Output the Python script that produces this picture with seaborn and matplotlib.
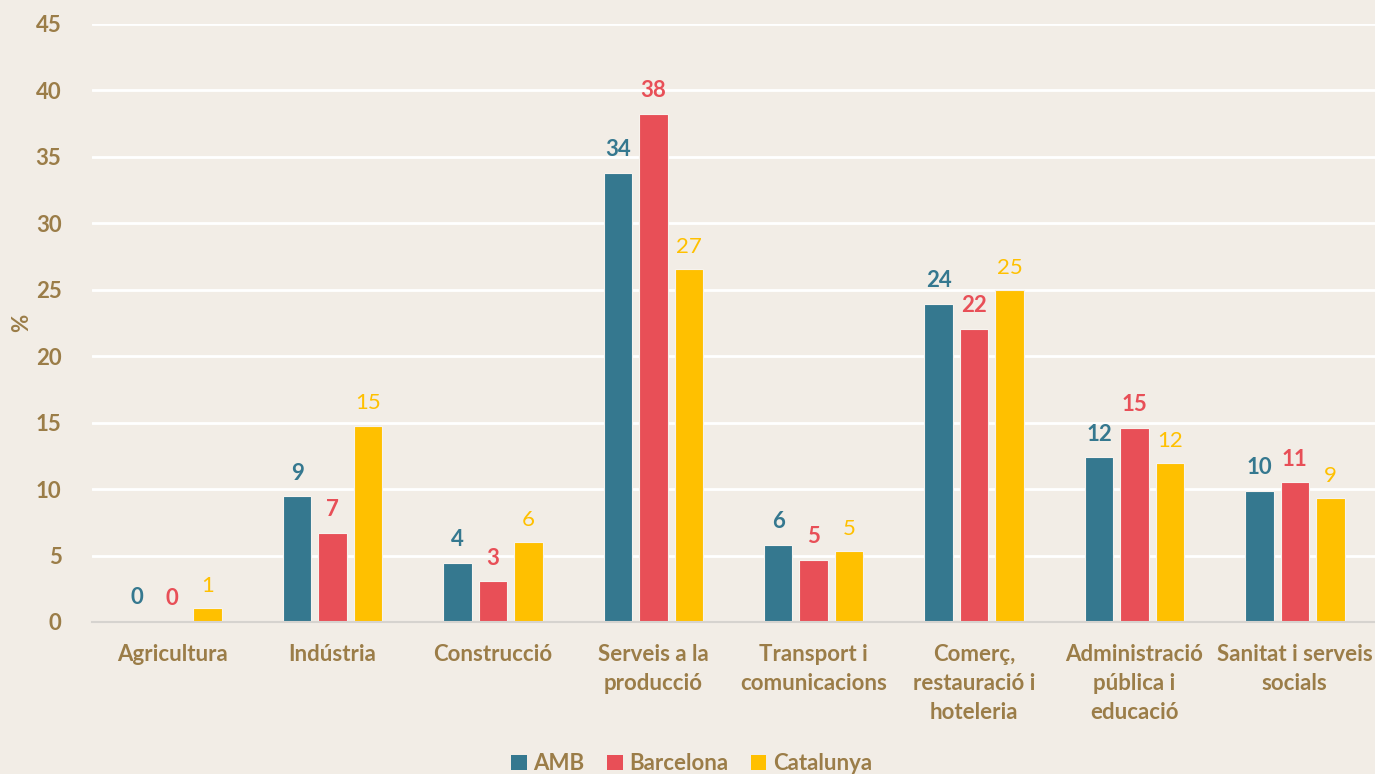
import matplotlib
matplotlib.use("Agg")
import matplotlib.pyplot as plt
import seaborn as sns
import pandas as pd
from matplotlib.patches import Patch

categories = ["Agricultura", "Indústria", "Construcció", "Serveis a la\nproducció",
              "Transport i\ncomunicacions", "Comerç,\nrestauració i\nhoteleria",
              "Administració\npública i\neducació", "Sanitat i serveis\nsocials"]
series = ["AMB", "Barcelona", "Catalunya"]
amb = [0.1, 9.48, 4.44, 33.8, 5.8, 23.95, 12.4, 9.86]
barcelona = [0.05, 6.7, 3.08, 38.25, 4.67, 22.05, 14.6, 10.52]
catalunya = [1.05, 14.75, 6.02, 26.55, 5.34, 24.98, 11.96, 9.33]
yticks = [0, 5, 10, 15, 20, 25, 30, 35, 40, 45]

colors = ["#35788f", "#e84f57", "#ffc000"]
txt = "#9b7d48"
bg = "#f2ede6"
fs = 16

rows = []
for s, vals in zip(series, [amb, barcelona, catalunya]):
    for c, v in zip(categories, vals):
        rows.append({"cat": c, "serie": s, "val": v})
df = pd.DataFrame(rows)

sns.set_theme(style="white")
plt.rcParams["font.family"] = ["Lato", "DejaVu Sans"]

fig = plt.figure(figsize=(13.75, 7.74), dpi=100, facecolor=bg)
ax = fig.add_axes([92/1375, 1-622/774, 1-92/1375, (622-24)/774])
ax.set_facecolor(bg)

sns.barplot(data=df, x="cat", y="val", hue="serie", palette=colors, width=0.664,
            gap=0.2, ax=ax, legend=False, edgecolor="#f7f3ee", linewidth=0.8,
            order=categories, hue_order=series, saturation=1)

ax.set_ylim(0, 45)
ax.set_xlim(-0.5, len(categories) - 0.5)
ax.set_yticks(yticks)
ax.yaxis.grid(True, color="white", linewidth=2)
ax.set_axisbelow(True)
for sp in ["top", "right", "left"]:
    ax.spines[sp].set_visible(False)
ax.spines["bottom"].set_color("#d6d3cf")
ax.spines["bottom"].set_linewidth(1.5)
ax.tick_params(axis="both", length=0, colors=txt, labelsize=fs)
ax.tick_params(axis="x", pad=16)
ax.tick_params(axis="y", pad=22)
for lab in ax.get_xticklabels() + ax.get_yticklabels():
    lab.set_fontweight("bold")
    lab.set_color(txt)
for lab in ax.get_xticklabels():
    lab.set_linespacing(1.45)
ax.set_xlabel("")
ax.set_ylabel("%", color=txt, fontsize=fs, fontweight="bold", labelpad=10)
ax.yaxis.set_label_coords(-0.047, 0.5)

vals_all = [amb, barcelona, catalunya]
for i, cont in enumerate(ax.containers):
    labels = [f"{v:.0f}" for v in vals_all[i]]
    ax.bar_label(cont, labels=labels, padding=9, color=colors[i], fontsize=fs,
                 fontweight="bold" if i < 2 else "normal")

handles = [Patch(facecolor=c, edgecolor="none") for c in colors]
leg = fig.legend(handles, series, loc="lower center", bbox_to_anchor=(0.503, -0.026),
                 ncol=3, frameon=False, handlelength=0.7, handleheight=0.7,
                 handletextpad=0.3, columnspacing=1.0,
                 prop={"size": fs, "weight": "bold"})
for t in leg.get_texts():
    t.set_color(txt)

fig.savefig("out.png", dpi=100, facecolor=bg)
